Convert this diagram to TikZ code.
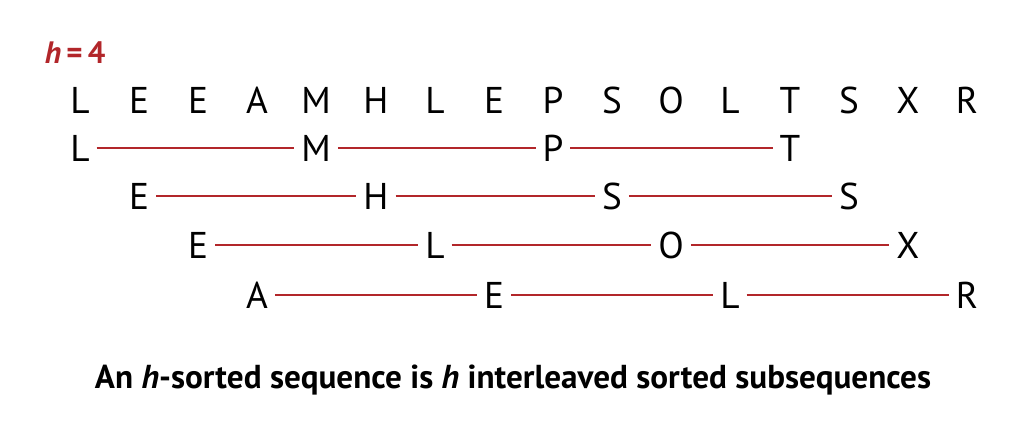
\documentclass[tikz,border=0pt]{standalone}
\usepackage{fontspec}
\setmainfont{PT Sans}
\usepackage{tikz}
\usetikzlibrary{positioning}
\definecolor{sortred}{RGB}{178,38,42}
\tikzset{
    key/.style={inner sep=0pt, outer xsep=5pt, text height=19pt, text depth=0pt,
                font=\fontsize{26.5}{30}\selectfont},
    link/.style={draw=sortred, line width=0.9pt},
    captext/.style={font=\fontsize{23.6}{28}\selectfont\bfseries},
}

\begin{document}
\begin{tikzpicture}[x=0.025cm, y=-0.025cm]
    \useasboundingbox (0,0) rectangle (1014,434);

    % Label
    \node[anchor=west, text=sortred, font=\fontsize{22}{26}\selectfont\bfseries] (hval) at (40,53) {\textit{h}\,=\,4};

    % Input sequence
    \node[key] (a1)  at (80,100)  {L};
    \node[key] (a2)  at (139,100) {E};
    \node[key] (a3)  at (198,100) {E};
    \node[key] (a4)  at (257,100) {A};
    \node[key] (a5)  at (316,100) {M};
    \node[key] (a6)  at (376,100) {H};
    \node[key] (a7)  at (435,100) {L};
    \node[key] (a8)  at (494,100) {E};
    \node[key] (a9)  at (553,100) {P};
    \node[key] (a10) at (612,100) {S};
    \node[key] (a11) at (671,100) {O};
    \node[key] (a12) at (730,100) {L};
    \node[key] (a13) at (790,100) {T};
    \node[key] (a14) at (849,100) {S};
    \node[key] (a15) at (908,100) {X};
    \node[key] (a16) at (967,100) {R};

    % Subsequence 1
    \node[key] (b1) at (80,148)  {L};
    \node[key] (b2) at (316,148) {M};
    \node[key] (b3) at (553,148) {P};
    \node[key] (b4) at (790,148) {T};

    % Subsequence 2
    \node[key] (c1) at (139,196) {E};
    \node[key] (c2) at (376,196) {H};
    \node[key] (c3) at (612,196) {S};
    \node[key] (c4) at (849,196) {S};

    % Subsequence 3
    \node[key] (d1) at (198,245) {E};
    \node[key] (d2) at (435,245) {L};
    \node[key] (d3) at (671,245) {O};
    \node[key] (d4) at (908,245) {X};

    % Subsequence 4
    \node[key] (e1) at (257,295) {A};
    \node[key] (e2) at (494,295) {E};
    \node[key] (e3) at (730,295) {L};
    \node[key] (e4) at (967,295) {R};

    % Links
    \draw[link] (b1) -- (b2);
    \draw[link] (b2) -- (b3);
    \draw[link] (b3) -- (b4);
    \draw[link] (c1) -- (c2);
    \draw[link] (c2) -- (c3);
    \draw[link] (c3) -- (c4);
    \draw[link] (d1) -- (d2);
    \draw[link] (d2) -- (d3);
    \draw[link] (d3) -- (d4);
    \draw[link] (e1) -- (e2);
    \draw[link] (e2) -- (e3);
    \draw[link] (e3) -- (e4);

    % Caption
    \node[captext] (caption) at (513,380) {An \textit{h}-sorted sequence is \textit{h} interleaved sorted subsequences};
\end{tikzpicture}
\end{document}
